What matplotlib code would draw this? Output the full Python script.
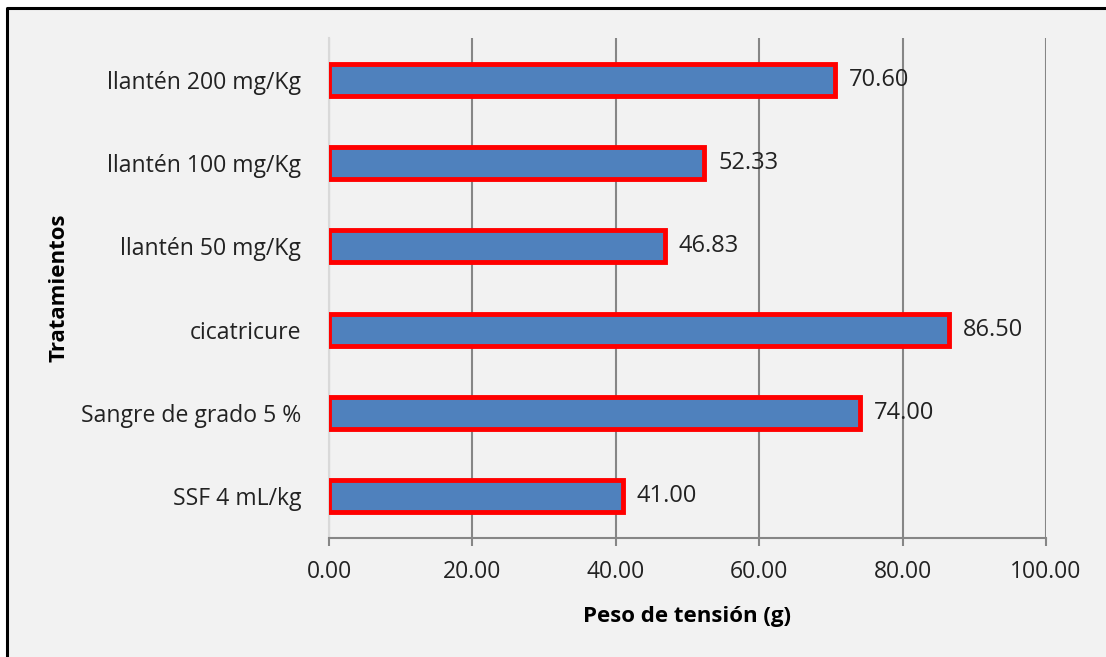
import matplotlib
matplotlib.use("Agg")
import matplotlib.pyplot as plt
from matplotlib.patches import Rectangle
from matplotlib.lines import Line2D

plt.rcParams["font.family"] = ["Open Sans", "DejaVu Sans"]

# data, bottom to top as drawn
tratamientos = ["SSF 4 mL/kg", "Sangre de grado 5 %", "cicatricure",
                "llantén 50 mg/Kg", "llantén 100 mg/Kg", "llantén 200 mg/Kg"]
peso = [41.00, 74.00, 86.50, 46.83, 52.33, 70.60]
x_ticks = [0, 20, 40, 60, 80, 100]

fig = plt.figure(figsize=(11.06, 6.57), dpi=100, facecolor="white")

# chart area background, frame only on left and top (cut off like the original)
x0, y1 = 7 / 1106, 1 - 8 / 657
fig.add_artist(Rectangle((x0, 0), 1 - x0, y1, transform=fig.transFigure,
                         facecolor="#F2F2F2", edgecolor="none", zorder=-10))
fig.add_artist(Line2D([x0, x0, 1], [0, y1, y1], transform=fig.transFigure,
                      color="black", linewidth=2.2, zorder=-9))

ax = fig.add_axes([329 / 1106, 1 - 538 / 657, 717 / 1106, 500 / 657])
ax.set_facecolor("none")

ypos = range(len(tratamientos))
bars = ax.barh(ypos, peso, height=0.38, color="#4F81BD", edgecolor="#FF0000",
               linewidth=3.5, zorder=3)

for b, v in zip(bars, peso):
    ax.annotate(f"{v:.2f}", (b.get_width(), b.get_y() + b.get_height() / 2),
                xytext=(10, 0), textcoords="offset points", ha="left", va="center",
                fontsize=17, color="#222222", zorder=4)

ax.set_xlim(0, 100)
ax.set_ylim(-0.5, len(tratamientos) - 0.5)
ax.set_xticks(x_ticks)
ax.set_xticklabels([f"{t:.2f}" for t in x_ticks])
ax.set_yticks(list(ypos))
ax.set_yticklabels(tratamientos)

ax.grid(axis="x", color="#868686", linewidth=1.5, zorder=1)
ax.set_axisbelow(True)

for s in ["top", "right"]:
    ax.spines[s].set_visible(False)
ax.spines["left"].set_color("#D9D9D9")
ax.spines["left"].set_linewidth(1.5)
ax.spines["bottom"].set_color("#868686")
ax.spines["bottom"].set_linewidth(1.5)

ax.tick_params(axis="x", direction="out", length=6, width=1.5, color="#868686",
               labelsize=16.5, labelcolor="#222222", pad=10)
ax.tick_params(axis="y", length=0, labelsize=16.6, labelcolor="#222222", pad=20)

ax.set_xlabel("Peso de tensión (g)", fontsize=16, fontweight="bold", labelpad=16)
ax.set_ylabel("Tratamientos", fontsize=16, fontweight="bold", labelpad=8)

fig.savefig("out.png", dpi=100, facecolor="white")
